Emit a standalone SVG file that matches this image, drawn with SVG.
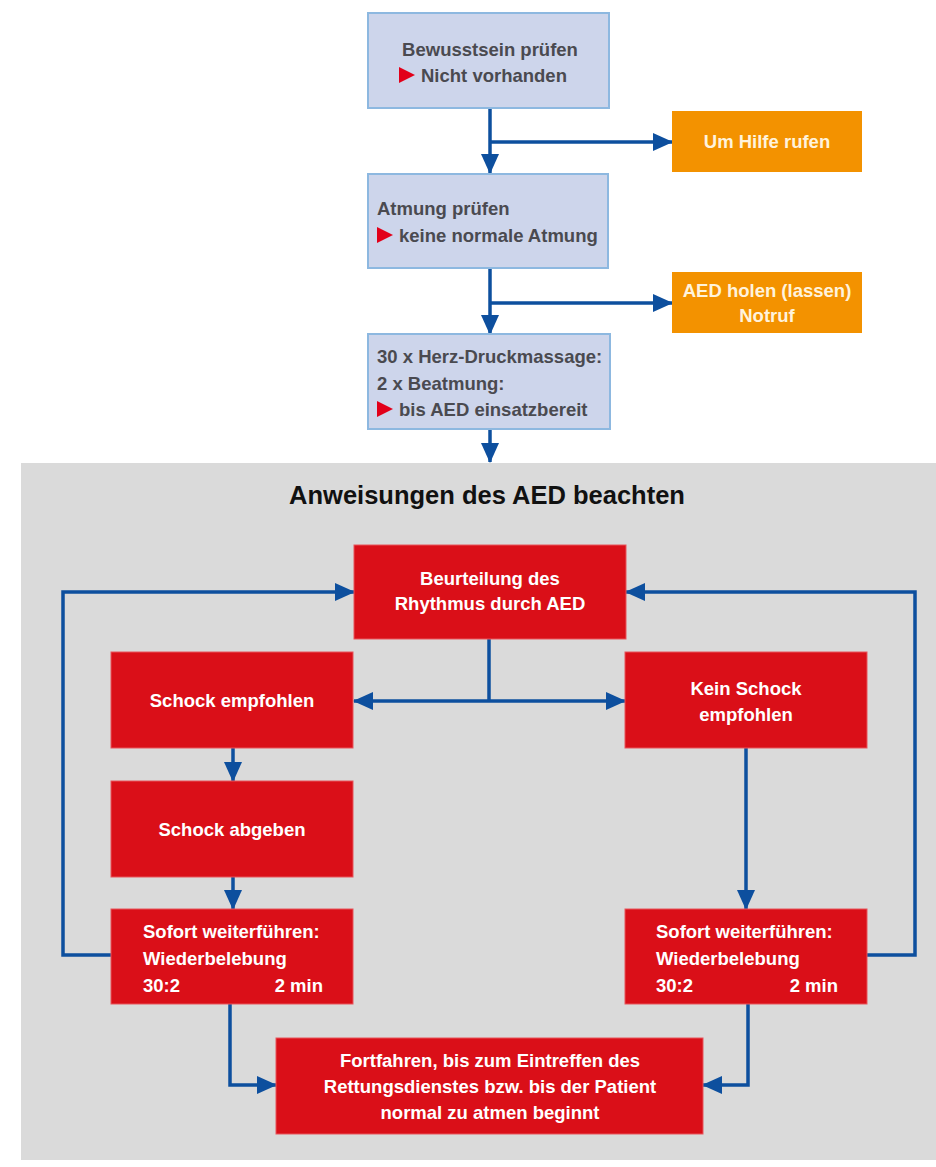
<svg xmlns="http://www.w3.org/2000/svg" width="936" height="1167" viewBox="0 0 936 1167">
<defs>
<style>
.bg{fill:#ffffff}
.panel{fill:#dadada}
.lb{fill:#cdd5eb;stroke:#8db8e0;stroke-width:2}
.or{fill:#f39200}
.rd{fill:#da0f18;stroke:#e8555b;stroke-width:1}
.t{font-family:"Liberation Sans",Arial,sans-serif;font-weight:bold;font-size:18.5px}
.dk{fill:#4a4a50}
.wh{fill:#ffffff}
.ow{fill:#fff3dc}
.title{font-family:"Liberation Sans",Arial,sans-serif;font-weight:bold;font-size:25.5px;fill:#111111}
.bul{fill:#e2001a}
.c{fill:none;stroke:#0d4f9e;stroke-width:3.5}
</style>
<marker id="ah" viewBox="0 0 20 18" refX="19" refY="9" markerWidth="20" markerHeight="18" markerUnits="userSpaceOnUse" orient="auto-start-reverse">
<path d="M0,0 L20,9 L0,18 z" fill="#0d4f9e"/>
</marker>
</defs>
<rect class="bg" x="0" y="0" width="936" height="1167"/>
<rect id="panel" class="panel" x="21" y="463" width="915" height="697"/>
<text class="title" x="487" y="504" text-anchor="middle">Anweisungen des AED beachten</text>

<g id="connectors">
<path class="c" d="M490,108 V173" marker-end="url(#ah)"/>
<path class="c" d="M490,142 H672" marker-end="url(#ah)"/>
<path class="c" d="M490,268 V334" marker-end="url(#ah)"/>
<path class="c" d="M490,303 H672" marker-end="url(#ah)"/>
<path class="c" d="M490,429 V462" marker-end="url(#ah)"/>
<path class="c" d="M489,639 V701"/>
<path class="c" d="M354,701 H625" marker-start="url(#ah)" marker-end="url(#ah)"/>
<path class="c" d="M233,748 V781" marker-end="url(#ah)"/>
<path class="c" d="M233,877 V909" marker-end="url(#ah)"/>
<path class="c" d="M746,748 V909" marker-end="url(#ah)"/>
<path class="c" d="M111,955 H63 V592 H354" marker-end="url(#ah)"/>
<path class="c" d="M867,955 H915 V592 H626" marker-end="url(#ah)"/>
<path class="c" d="M230,1004 V1085 H276" marker-end="url(#ah)"/>
<path class="c" d="M748,1004 V1085 H703" marker-end="url(#ah)"/>
</g>

<g id="n1">
<rect class="lb" x="368" y="13" width="241" height="95"/>
<text class="t dk" x="490" y="56" text-anchor="middle">Bewusstsein prüfen</text>
<path class="bul" d="M399,67 L415,75 L399,83 z"/>
<text class="t dk" x="421" y="82">Nicht vorhanden</text>
</g>

<g id="n2">
<rect class="or" x="672" y="111" width="190" height="61"/>
<text class="t ow" x="767" y="148" text-anchor="middle">Um Hilfe rufen</text>
</g>

<g id="n3">
<rect class="lb" x="368" y="174" width="240" height="94"/>
<text class="t dk" x="377" y="215">Atmung prüfen</text>
<path class="bul" d="M377,227 L393,235 L377,243 z"/>
<text class="t dk" x="399" y="242">keine normale Atmung</text>
</g>

<g id="n4">
<rect class="or" x="672" y="272" width="190" height="61"/>
<text class="t ow" x="767" y="297" text-anchor="middle">AED holen (lassen)</text>
<text class="t ow" x="767" y="322" text-anchor="middle">Notruf</text>
</g>

<g id="n5">
<rect class="lb" x="368" y="334" width="242" height="95"/>
<text class="t dk" x="377" y="363">30 x Herz-Druckmassage:</text>
<text class="t dk" x="377" y="390">2 x Beatmung:</text>
<path class="bul" d="M377,401 L393,409 L377,417 z"/>
<text class="t dk" x="399" y="416">bis AED einsatzbereit</text>
</g>

<g id="n6">
<rect class="rd" x="354" y="545" width="272" height="94"/>
<text class="t wh" x="490" y="585" text-anchor="middle">Beurteilung des</text>
<text class="t wh" x="490" y="610" text-anchor="middle">Rhythmus durch AED</text>
</g>

<g id="n7">
<rect class="rd" x="111" y="652" width="242" height="96"/>
<text class="t wh" x="232" y="707" text-anchor="middle">Schock empfohlen</text>
</g>

<g id="n8">
<rect class="rd" x="625" y="652" width="242" height="96"/>
<text class="t wh" x="746" y="695" text-anchor="middle">Kein Schock</text>
<text class="t wh" x="746" y="721" text-anchor="middle">empfohlen</text>
</g>

<g id="n9">
<rect class="rd" x="111" y="781" width="242" height="96"/>
<text class="t wh" x="232" y="836" text-anchor="middle">Schock abgeben</text>
</g>

<g id="n10">
<rect class="rd" x="111" y="909" width="242" height="95"/>
<text class="t wh" x="143" y="938">Sofort weiterführen:</text>
<text class="t wh" x="143" y="965">Wiederbelebung</text>
<text class="t wh" x="143" y="992">30:2</text>
<text class="t wh" x="323" y="992" text-anchor="end">2 min</text>
</g>

<g id="n11">
<rect class="rd" x="625" y="909" width="242" height="95"/>
<text class="t wh" x="656" y="938">Sofort weiterführen:</text>
<text class="t wh" x="656" y="965">Wiederbelebung</text>
<text class="t wh" x="656" y="992">30:2</text>
<text class="t wh" x="838" y="992" text-anchor="end">2 min</text>
</g>

<g id="n12">
<rect class="rd" x="276" y="1038" width="427" height="96"/>
<text class="t wh" x="490" y="1067" text-anchor="middle">Fortfahren, bis zum Eintreffen des</text>
<text class="t wh" x="490" y="1093" text-anchor="middle">Rettungsdienstes bzw. bis der Patient</text>
<text class="t wh" x="490" y="1119" text-anchor="middle">normal zu atmen beginnt</text>
</g>
</svg>
